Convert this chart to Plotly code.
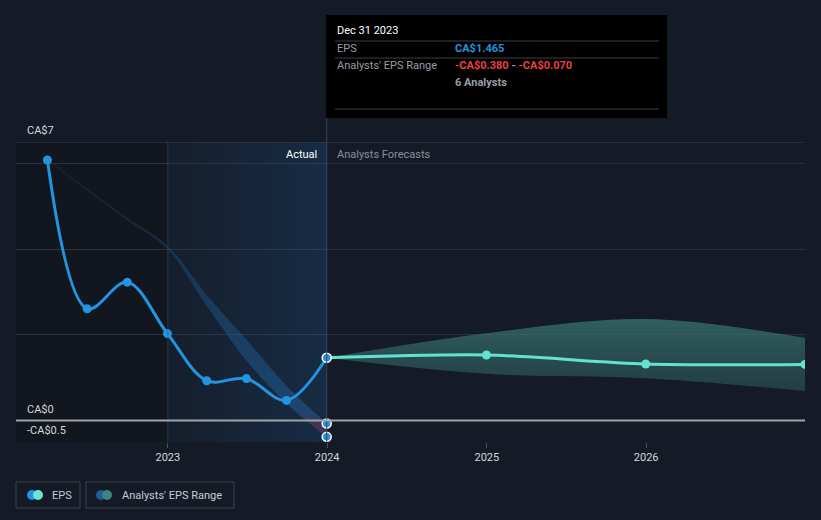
import plotly.graph_objects as go

# ---------------- data ----------------
eps_dates = ["2022-03-31", "2022-06-30", "2022-09-30", "2022-12-31",
             "2023-03-31", "2023-06-30", "2023-09-30", "2023-12-31"]
eps_values = [6.08, 2.61, 3.23, 2.03, 0.93, 0.98, 0.47, 1.465]

fc_dates = ["2023-12-31", "2024-12-31", "2025-12-31", "2026-12-31"]
fc_values = [1.465, 1.53, 1.32, 1.31]
fc_high = [1.465, 2.04, 2.37, 1.93]
fc_low = [1.465, 1.09, 0.99, 0.69]

hist_dates = ["2022-03-31", "2022-06-30", "2022-09-30", "2022-12-31",
              "2023-03-31", "2023-06-30", "2023-09-30", "2023-12-31"]
hist_high = [6.08, 5.39, 4.71, 4.07, 2.92, 1.88, 0.80, -0.07]
hist_low = [6.08, 5.37, 4.68, 4.00, 2.68, 1.40, 0.40, -0.38]

range_end_date = "2023-12-31"
range_end_vals = [-0.07, -0.38]

x_ticks = ["2023-01-01", "2024-01-01", "2025-01-01", "2026-01-01"]
x_tick_labels = ["2023", "2024", "2025", "2026"]
y_grid = [-0.5, 2, 4, 6]
y_labels = [(6.5, "CA$7"), (0, "CA$0"), (-0.5, "-CA$0.5")]

actual_start = "2023-01-01"
actual_end = "2023-12-31"
x_range = ["2022-01-18", "2026-12-31"]
y_range = [-0.5, 6.5]

# ---------------- layout helpers ----------------
OFF = 8  # page body offset
L, R, T, B = 16 - OFF, 805 - OFF, 142 - OFF, 442 - OFF
def px(x):
    return (x - OFF - L) / (R - L)
def py(y):
    return (B - (y - OFF)) / (B - T)

BG = "#151b26"
BLUE = "#2394df"
TEAL = "#62e3cf"
FONT = "Roboto"

fig = go.Figure()

# Actual-period gradient background
fig.add_trace(go.Scatter(
    x=[actual_start, actual_end, actual_end, actual_start, actual_start],
    y=[y_range[0], y_range[0], y_range[1], y_range[1], y_range[0]],
    mode="lines", line=dict(width=0), fill="toself",
    fillgradient=dict(type="horizontal",
                      colorscale=[[0, "rgba(30,110,190,0.04)"],
                                  [1, "rgba(30,110,190,0.20)"]]),
    hoverinfo="skip", showlegend=False))

# Historical analyst range band
fig.add_trace(go.Scatter(x=hist_dates, y=hist_low, mode="lines",
                         line=dict(width=0, shape="spline"),
                         hoverinfo="skip", showlegend=False))
fig.add_trace(go.Scatter(
    x=hist_dates, y=hist_high, mode="lines",
    line=dict(width=1, shape="spline", color="rgba(35,100,160,0.22)"),
    fill="tonexty",
    fillgradient=dict(type="vertical", start=-0.4, stop=6.1,
                      colorscale=[[0, "rgba(125,55,75,0.6)"],
                                  [0.05, "rgba(95,60,90,0.55)"],
                                  [0.09, "rgba(35,100,160,0.48)"],
                                  [0.5, "rgba(35,100,160,0.36)"],
                                  [1, "rgba(35,100,160,0.12)"]]),
    hoverinfo="skip", showlegend=False))

# Forecast band
fig.add_trace(go.Scatter(x=fc_dates, y=fc_low, mode="lines",
                         line=dict(width=0, shape="spline"),
                         hoverinfo="skip", showlegend=False))
fig.add_trace(go.Scatter(
    x=fc_dates, y=fc_high, mode="lines",
    line=dict(width=0, shape="spline"), fill="tonexty",
    fillgradient=dict(type="vertical", start=0.6, stop=2.4,
                      colorscale=[[0, "rgba(50,100,105,0.45)"],
                                  [1, "rgba(60,125,120,0.7)"]]),
    hoverinfo="skip", showlegend=False))

# Forecast line
fig.add_trace(go.Scatter(x=fc_dates, y=fc_values, mode="lines+markers",
                         line=dict(color=TEAL, width=3, shape="spline", smoothing=0.8),
                         marker=dict(color=TEAL, size=9),
                         hoverinfo="skip", showlegend=False))

# EPS line
fig.add_trace(go.Scatter(x=eps_dates, y=eps_values, mode="lines+markers",
                         line=dict(color=BLUE, width=3, shape="spline"),
                         marker=dict(color=BLUE, size=9,
                                     line=dict(color=[BLUE] * (len(eps_values) - 1) + ["white"],
                                               width=[0] * (len(eps_values) - 1) + [1.5])),
                         hoverinfo="skip", showlegend=False))

# Range end markers
fig.add_trace(go.Scatter(x=[range_end_date] * len(range_end_vals), y=range_end_vals,
                         mode="markers",
                         marker=dict(color=BLUE, size=9, line=dict(color="white", width=1.5)),
                         hoverinfo="skip", showlegend=False))

shapes = []
# darker left region
shapes.append(dict(type="rect", xref="paper", yref="paper", x0=0, x1=px(168),
                   y0=0, y1=1, fillcolor="rgba(0,0,0,0.16)", line=dict(width=0), layer="below"))
# top boundary line
shapes.append(dict(type="line", xref="paper", yref="y", x0=0, x1=1, y0=y_range[1], y1=y_range[1],
                   line=dict(color="#3a414b", width=1)))
# vertical line at 2023
shapes.append(dict(type="line", xref="x", yref="paper", x0=actual_start, x1=actual_start,
                   y0=0, y1=1, line=dict(color="rgba(40,90,140,0.55)", width=1)))
# hover line at 2024
shapes.append(dict(type="line", xref="x", yref="paper", x0=actual_end, x1=actual_end,
                   y0=0, y1=py(15), line=dict(color="#3a4654", width=1)))
# zero line
shapes.append(dict(type="line", xref="paper", yref="y", x0=0, x1=1, y0=0, y1=0,
                   line=dict(color="#a0a3a8", width=2)))
# tooltip
shapes.append(dict(type="rect", xref="paper", yref="paper", x0=px(326), x1=px(667),
                   y0=py(118), y1=py(15), fillcolor="#000000", line=dict(width=0)))
for yy in (41, 58, 109):
    shapes.append(dict(type="line", xref="paper", yref="paper", x0=px(335), x1=px(659),
                       y0=py(yy), y1=py(yy), line=dict(color="#3c3f44", width=1)))
# legend boxes
shapes.append(dict(type="rect", xref="paper", yref="paper", x0=px(16), x1=px(80),
                   y0=py(508), y1=py(482), line=dict(color="#3b424d", width=1)))
shapes.append(dict(type="rect", xref="paper", yref="paper", x0=px(86), x1=px(234),
                   y0=py(508), y1=py(482), line=dict(color="#3b424d", width=1)))
for cx, col in ((32, BLUE), (38, "#6ee3d3"), (101, "#1f5d8f"), (107, "#3b8583")):
    shapes.append(dict(type="circle", xref="paper", yref="paper", xsizemode="pixel",
                       ysizemode="pixel", xanchor=px(cx), yanchor=py(495),
                       x0=-5, x1=5, y0=-5, y1=5, fillcolor=col, line=dict(width=0)))

ann = []
for val, txt in y_labels:
    ann.append(dict(xref="paper", yref="y", x=0, y=val, xshift=9, yshift=3,
                    xanchor="left", yanchor="bottom", text=txt, showarrow=False,
                    font=dict(family=FONT, size=11, color="#d5d8dc")))
ann.append(dict(xref="x", yref="paper", x=actual_end, y=py(154), xshift=-8,
                xanchor="right", yanchor="middle", text="Actual", showarrow=False,
                font=dict(family=FONT, size=11, color="#ffffff")))
ann.append(dict(xref="x", yref="paper", x=actual_end, y=py(154), xshift=8,
                xanchor="left", yanchor="middle", text="Analysts Forecasts", showarrow=False,
                font=dict(family=FONT, size=11, color="#8a9099")))
# tooltip texts
def tt(x, y, text, color, bold=False):
    ann.append(dict(xref="paper", yref="paper", x=px(x), y=py(y), xanchor="left",
                    yanchor="middle", showarrow=False,
                    text=f"<b>{text}</b>" if bold else text,
                    font=dict(family=FONT, size=11, color=color)))
tt(335, 31, "Dec 31 2023", "#ffffff")
tt(335, 49, "EPS", "#9a9ea4")
tt(453, 49, "CA$1.465", BLUE, bold=True)
tt(335, 66, "Analysts' EPS Range", "#9a9ea4")
tt(453, 66, "<b><span style='color:#e84242'>-CA$0.380</span> - "
            "<span style='color:#e84242'>-CA$0.070</span></b>", "#9a9ea4")
tt(453, 83, "6 Analysts", "#9a9ea4", bold=True)
# legend texts
tt(50, 495, "EPS", "#c8cbd0")
tt(120, 495, "Analysts' EPS Range", "#c8cbd0")

fig.update_layout(
    width=821, height=520,
    margin=dict(l=L, r=821 - R, t=T, b=520 - B),
    paper_bgcolor=BG, plot_bgcolor=BG,
    font=dict(family=FONT, size=11, color="#d5d8dc"),
    showlegend=False,
    shapes=shapes, annotations=ann,
    xaxis=dict(type="date", range=x_range, tickvals=x_ticks, ticktext=x_tick_labels,
               showgrid=False, zeroline=False, ticks="outside", ticklen=5,
               tickcolor="#4a505a", tickfont=dict(family=FONT, size=11, color="#d5d8dc"),
               showline=False, fixedrange=True),
    yaxis=dict(range=y_range, tickvals=y_grid, showticklabels=False, showgrid=True,
               gridcolor="#2b323d", gridwidth=1, zeroline=False, fixedrange=True),
)

fig.write_html("out.html",
               post_script="document.body.style.background='#151b26';"
                           "document.documentElement.style.background='#151b26';")
